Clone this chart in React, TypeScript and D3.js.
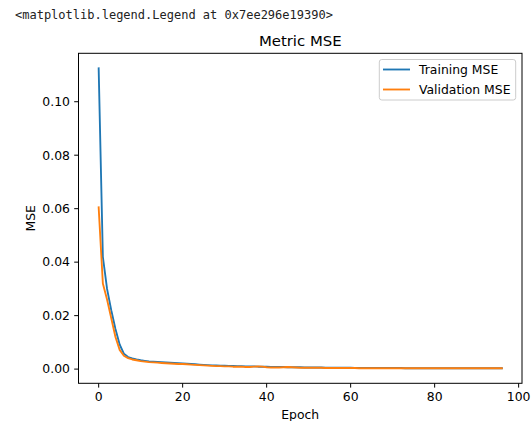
import React from 'react';
import { scaleLinear, line, extent, format } from 'd3';

const width = 531;
const height = 421;
const frame = { left: 78.5, right: 522, top: 53.3, bottom: 383.3 };

const trainingMse = [
  0.1125, 0.042, 0.03, 0.022, 0.015, 0.0092, 0.0058, 0.0045, 0.004, 0.0036,
  0.0033, 0.0031, 0.0029, 0.0028, 0.0027, 0.0026, 0.0025, 0.0024, 0.0023, 0.0022,
  0.0021, 0.002, 0.0019, 0.0018, 0.0017, 0.0016, 0.0015, 0.0014, 0.0014, 0.0013,
  0.0013, 0.0012, 0.0012, 0.0011, 0.0011, 0.001, 0.001, 0.001, 0.0009, 0.0009,
  0.0009, 0.0008, 0.0008, 0.0008, 0.0008, 0.0007, 0.0007, 0.0007, 0.0007, 0.0006,
  0.0006, 0.0006, 0.0006, 0.0006, 0.0005, 0.0005, 0.0005, 0.0005, 0.0005, 0.0005,
  0.0005, 0.0004, 0.0004, 0.0004, 0.0004, 0.0004, 0.0004, 0.0004, 0.0004, 0.0004,
  0.0004, 0.0004, 0.0004, 0.0003, 0.0003, 0.0003, 0.0003, 0.0003, 0.0003, 0.0003,
  0.0003, 0.0003, 0.0003, 0.0003, 0.0003, 0.0003, 0.0003, 0.0003, 0.0003, 0.0003,
  0.0003, 0.0003, 0.0003, 0.0003, 0.0003, 0.0003, 0.0003,
];
const validationMse = [
  0.0605, 0.032, 0.026, 0.019, 0.012, 0.0072, 0.005, 0.0041, 0.0036, 0.0033,
  0.003, 0.0028, 0.0026, 0.0025, 0.0024, 0.0023, 0.0022, 0.0021, 0.002, 0.0019,
  0.0019, 0.0018, 0.0017, 0.0016, 0.0015, 0.0014, 0.0013, 0.0012, 0.0011, 0.0011,
  0.001, 0.001, 0.0009, 0.0009, 0.0009, 0.0008, 0.0008, 0.0009, 0.001, 0.0009,
  0.0007, 0.0006, 0.0006, 0.0006, 0.0007, 0.0008, 0.0007, 0.0006, 0.0005, 0.0005,
  0.0005, 0.0005, 0.0005, 0.0005, 0.0004, 0.0004, 0.0004, 0.0004, 0.0004, 0.0004,
  0.0004, 0.0004, 0.0003, 0.0003, 0.0003, 0.0003, 0.0003, 0.0003, 0.0003, 0.0003,
  0.0003, 0.0003, 0.0003, 0.0003, 0.0003, 0.0003, 0.0003, 0.0003, 0.0003, 0.0003,
  0.0003, 0.0003, 0.0003, 0.0003, 0.0003, 0.0003, 0.0003, 0.0003, 0.0003, 0.0003,
  0.0003, 0.0003, 0.0003, 0.0003, 0.0003, 0.0003, 0.0003,
];
const xTicks = [0, 20, 40, 60, 80, 100];
const yTicks = [0, 0.02, 0.04, 0.06, 0.08, 0.1];
const seriesNames = ['Training MSE', 'Validation MSE'];
const colors = ['#1f77b4', '#ff7f0e'];

const font = '"DejaVu Sans", sans-serif';

const App = () => {
  const n = trainingMse.length;
  const xPad = (n - 1) * 0.05;
  const xScale = scaleLinear()
    .domain([-xPad, n - 1 + xPad])
    .range([frame.left, frame.right]);
  const [lo, hi] = extent([...trainingMse, ...validationMse]) as [number, number];
  const yPad = (hi - lo) * 0.05;
  const yScale = scaleLinear()
    .domain([lo - yPad, hi + yPad])
    .range([frame.bottom, frame.top]);
  const path = line<number>()
    .x((_, i) => xScale(i))
    .y((d) => yScale(d));
  const fmt = format('.2f');
  const series = [trainingMse, validationMse];

  return (
    <svg
      width={width}
      height={height}
      style={{ position: 'absolute', left: 0, top: 0, background: '#fff' }}
      fontFamily={font}
    >
      <text
        x={15}
        y={19}
        fontFamily='"DejaVu Sans Mono", monospace'
        fontSize={12}
        fill="#222"
      >
        {'<matplotlib.legend.Legend at 0x7ee296e19390>'}
      </text>
      <text
        x={(frame.left + frame.right) / 2}
        y={frame.top - 7}
        textAnchor="middle"
        fontSize={14.9}
      >
        Metric MSE
      </text>

      {series.map((s, i) => (
        <path
          key={seriesNames[i]}
          d={path(s) || ''}
          fill="none"
          stroke={colors[i]}
          strokeWidth={1.86}
          strokeLinejoin="round"
          strokeLinecap="square"
        />
      ))}

      <rect
        x={frame.left}
        y={frame.top}
        width={frame.right - frame.left}
        height={frame.bottom - frame.top}
        fill="none"
        stroke="black"
        strokeWidth={1}
      />

      {xTicks.map((t) => (
        <g key={t} transform={`translate(${xScale(t)},${frame.bottom})`}>
          <line y2={4.3} stroke="black" strokeWidth={1} />
          <text y={8.6} dy="0.76em" textAnchor="middle" fontSize={12.4}>
            {t}
          </text>
        </g>
      ))}
      {yTicks.map((t) => (
        <g key={t} transform={`translate(${frame.left},${yScale(t)})`}>
          <line x2={-4.3} stroke="black" strokeWidth={1} />
          <text x={-8.6} dy="0.35em" textAnchor="end" fontSize={12.4}>
            {fmt(t)}
          </text>
        </g>
      ))}

      <text
        x={(frame.left + frame.right) / 2}
        y={frame.bottom + 26.5}
        dy="0.76em"
        textAnchor="middle"
        fontSize={12.4}
      >
        Epoch
      </text>
      <text
        transform={`translate(35,${(frame.top + frame.bottom) / 2}) rotate(-90)`}
        textAnchor="middle"
        fontSize={12.4}
      >
        MSE
      </text>

      <g>
        <rect
          x={379.3}
          y={59.5}
          width={136.4}
          height={40.5}
          rx={2.5}
          fill="white"
          fillOpacity={0.8}
          stroke="#cccccc"
          strokeWidth={1}
        />
        {seriesNames.map((name, i) => (
          <g key={name} transform={`translate(0,${69.5 + i * 20})`}>
            <line x1={383} x2={410} stroke={colors[i]} strokeWidth={1.86} />
            <text x={419} dy="0.35em" fontSize={12.4}>
              {name}
            </text>
          </g>
        ))}
      </g>
    </svg>
  );
};

export default App;
